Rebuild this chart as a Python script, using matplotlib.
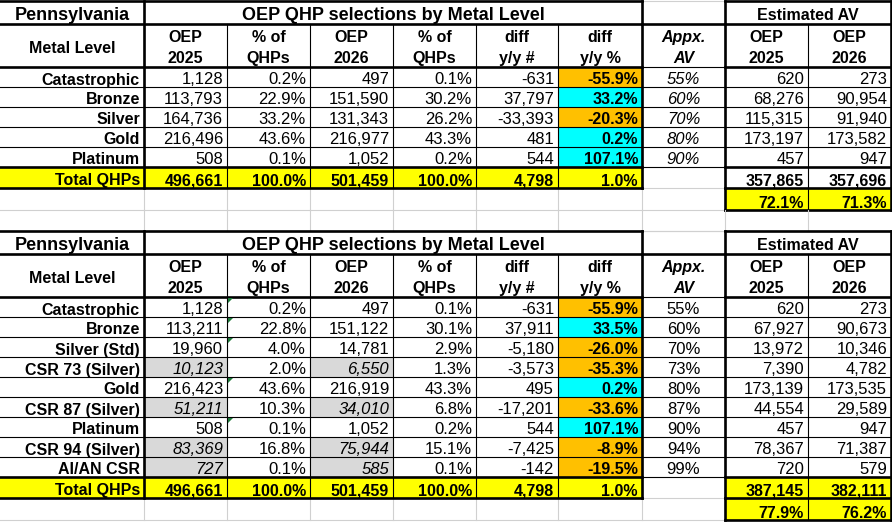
import matplotlib
matplotlib.use("Agg")
import matplotlib.pyplot as plt
from matplotlib.patches import Rectangle, Polygon

plt.rcParams['font.family'] = ['Liberation Sans', 'DejaVu Sans']

# ---- data: table 1 (metal levels) ----
levels_1 = ['Catastrophic', 'Bronze', 'Silver', 'Gold', 'Platinum']
oep25_1 = [1128, 113793, 164736, 216496, 508]
pct25_1 = [0.2, 22.9, 33.2, 43.6, 0.1]
oep26_1 = [497, 151590, 131343, 216977, 1052]
pct26_1 = [0.1, 30.2, 26.2, 43.3, 0.2]
diff_1 = [-631, 37797, -33393, 481, 544]
diffpct_1 = [-55.9, 33.2, -20.3, 0.2, 107.1]
av_1 = [55, 60, 70, 80, 90]
estav25_1 = [620, 68276, 115315, 173197, 457]
estav26_1 = [273, 90954, 91940, 173582, 947]
est_total_1 = [357865, 357696]
est_pct_1 = [72.1, 71.3]

# ---- data: table 2 (with CSR split) ----
levels_2 = ['Catastrophic', 'Bronze', 'Silver (Std)', 'CSR 73 (Silver)', 'Gold',
            'CSR 87 (Silver)', 'Platinum', 'CSR 94 (Silver)', 'AI/AN CSR']
oep25_2 = [1128, 113211, 19960, 10123, 216423, 51211, 508, 83369, 727]
pct25_2 = [0.2, 22.8, 4.0, 2.0, 43.6, 10.3, 0.1, 16.8, 0.1]
oep26_2 = [497, 151122, 14781, 6550, 216919, 34010, 1052, 75944, 585]
pct26_2 = [0.1, 30.1, 2.9, 1.3, 43.3, 6.8, 0.2, 15.1, 0.1]
diff_2 = [-631, 37911, -5180, -3573, 495, -17201, 544, -7425, -142]
diffpct_2 = [-55.9, 33.5, -26.0, -35.3, 0.2, -33.6, 107.1, -8.9, -19.5]
av_2 = [55, 60, 70, 73, 80, 87, 90, 94, 99]
estav25_2 = [620, 67927, 13972, 7390, 173139, 44554, 457, 78367, 720]
estav26_2 = [273, 90673, 10346, 4782, 173535, 29589, 947, 71387, 579]
est_total_2 = [387145, 382111]
est_pct_2 = [77.9, 76.2]

totals = [496661, 100.0, 501459, 100.0, 4798, 1.0]

state = 'Pennsylvania'
title = 'OEP QHP selections by Metal Level'
av_title = 'Estimated AV'
headers = [('Metal Level',), ('OEP', '2025'), ('% of', 'QHPs'), ('OEP', '2026'),
           ('% of', 'QHPs'), ('diff', 'y/y #'), ('diff', 'y/y %'), ('Appx.', 'AV'),
           ('OEP', '2025'), ('OEP', '2026')]

# column edges in pixels
xe = [-2, 144, 227, 310, 393, 476, 558, 642, 725, 808, 891]

YELLOW = '#FFFF00'
ORANGE = '#FFC000'
CYAN = '#00FFFF'
GREYFILL = '#D9D9D9'
GRID = '#D0D0D0'
THICK = 1.9
THIN = 0.8

fig = plt.figure(figsize=(8.92, 5.22), dpi=100)
ax = fig.add_axes([0, 0, 1, 1])
ax.set_xlim(0, 892)
ax.set_ylim(522, 0)
ax.axis('off')


def fmt_n(v):
    return f'{v:,}'


def fmt_p(v):
    return f'{v:.1f}%'


def fill(c0, c1, y0, y1, color):
    ax.add_patch(Rectangle((xe[c0], y0), xe[c1] - xe[c0], y1 - y0,
                           facecolor=color, edgecolor='none', zorder=1))


def hline(y, c0, c1, lw, color='black'):
    ax.plot([xe[c0], xe[c1]], [y, y], color=color, lw=lw, zorder=3,
            solid_capstyle='projecting')


def vline(x, y0, y1, lw, color='black'):
    ax.plot([x, x], [y0, y1], color=color, lw=lw, zorder=3,
            solid_capstyle='projecting')


def cell_text(col, ybot, s, bold=False, italic=False, align='right', size=12):
    if align == 'right':
        x, ha = xe[col + 1] - 4, 'right'
    else:
        x, ha = (xe[col] + xe[col + 1]) / 2, 'center'
    ax.text(x, ybot - 2.5, s, ha=ha, va='baseline', fontsize=size,
            fontweight='bold' if bold else 'normal',
            fontstyle='italic' if italic else 'normal', zorder=4)


def draw_table(top, levels, o25, p25, o26, p26, dif, difp, av, e25, e26,
               est_tot, est_pct, av_italic, csr_rows, tri_rows, total_yellow_av):
    y_title = top
    y_head = top + 23
    y_data = y_head + 43
    n = len(levels)
    y_rows = [y_data + 20 * i for i in range(n + 1)]
    y_tot = y_rows[-1]
    y_totb = y_tot + 21
    y_pct = y_totb
    y_pctb = y_pct + 22

    # fills
    for i in csr_rows:
        fill(1, 2, y_rows[i], y_rows[i + 1], GREYFILL)
        fill(3, 4, y_rows[i], y_rows[i + 1], GREYFILL)
    for i, v in enumerate(difp):
        fill(6, 7, y_rows[i], y_rows[i + 1], CYAN if v > 0 else ORANGE)
    fill(0, 7, y_tot, y_totb, YELLOW)
    if total_yellow_av:
        fill(8, 10, y_tot, y_totb, YELLOW)
    fill(8, 10, y_pct, y_pctb, YELLOW)

    # light grid in the empty cells below
    for c in range(0, 9):
        vline(xe[c], y_pct, y_pctb, 0.8, GRID)
    hline(y_pctb, 0, 8, 0.8, GRID)
    hline(y_title, 7, 8, 0.8, GRID)

    # thin inner black lines
    for y in y_rows[1:-1]:
        hline(y, 0, 10, THIN)
    for c in range(1, 10):
        vline(xe[c], y_head, y_totb, THIN)
    hline(y_totb, 7, 8, THIN, GRID)
    vline(xe[9], y_pct, y_pctb, THIN)

    # thick borders: main block and AV block
    for c0, c1 in [(0, 7), (8, 10)]:
        hline(y_title, c0, c1, THICK)
        hline(y_head, c0, c1, THICK)
        hline(y_data, c0, c1, THICK)
        hline(y_tot, c0, c1, THICK)
        hline(y_totb, c0, c1, THICK)
        vline(xe[c0], y_title, y_totb, THICK)
        vline(xe[c1], y_title, y_totb, THICK)
    hline(y_head, 7, 8, THICK)
    hline(y_data, 7, 8, THIN)
    hline(y_tot, 7, 8, THIN)
    vline(xe[1], y_title, y_totb, THICK)
    # percent box under AV totals
    hline(y_pctb, 8, 10, THICK)
    vline(xe[8], y_pct, y_pctb, THICK)
    vline(xe[10], y_pct, y_pctb, THICK)

    # green error-indicator triangles
    for i in tri_rows:
        x0, y0 = xe[2] + 1, y_rows[i] + 1
        ax.add_patch(Polygon([[x0, y0], [x0 + 5, y0], [x0, y0 + 5]],
                             closed=True, facecolor='#1F7A3A', edgecolor='none',
                             zorder=5))

    # titles
    tb = y_head - 4
    ax.text((xe[0] + 2 + xe[1]) / 2, tb, state, ha='center', va='baseline',
            fontsize=13, fontweight='bold', zorder=4)
    ax.text((xe[1] + xe[7]) / 2, tb, title, ha='center', va='baseline',
            fontsize=13, fontweight='bold', zorder=4)
    ax.text((xe[8] + xe[10]) / 2, tb, av_title, ha='center', va='baseline',
            fontsize=11.5, fontweight='bold', zorder=4)

    # header row
    for c, h in enumerate(headers):
        it = c == 7
        if len(h) == 1:
            ax.text((xe[c] + 2 + xe[c + 1]) / 2, y_head + 29, h[0], ha='center',
                    va='baseline', fontsize=11.5, fontweight='bold', zorder=4)
        else:
            for k, s in enumerate(h):
                ax.text((xe[c] + xe[c + 1]) / 2, y_head + 18 + 21 * k, s,
                        ha='center', va='baseline', fontsize=11.5,
                        fontweight='bold', fontstyle='italic' if it else 'normal',
                        zorder=4)

    # data rows
    for i in range(n):
        yb = y_rows[i + 1]
        ic = i in csr_rows
        cell_text(0, yb, levels[i], bold=True, size=11.5)
        cell_text(1, yb, fmt_n(o25[i]), italic=ic)
        cell_text(2, yb, fmt_p(p25[i]))
        cell_text(3, yb, fmt_n(o26[i]), italic=ic)
        cell_text(4, yb, fmt_p(p26[i]))
        cell_text(5, yb, fmt_n(dif[i]))
        cell_text(6, yb, fmt_p(difp[i]), bold=True, size=11.5)
        cell_text(7, yb, f'{av[i]}%', italic=av_italic, align='center')
        cell_text(8, yb, fmt_n(e25[i]))
        cell_text(9, yb, fmt_n(e26[i]))

    # totals
    yb = y_totb
    cell_text(0, yb, 'Total QHPs', bold=True, size=11.5)
    tot_txt = [fmt_n(totals[0]), fmt_p(totals[1]), fmt_n(totals[2]),
               fmt_p(totals[3]), fmt_n(totals[4]), fmt_p(totals[5])]
    for c, s in enumerate(tot_txt):
        cell_text(c + 1, yb, s, bold=True, size=11.5)
    cell_text(8, yb, fmt_n(est_tot[0]), bold=True, size=11.5)
    cell_text(9, yb, fmt_n(est_tot[1]), bold=True, size=11.5)
    cell_text(8, y_pctb, fmt_p(est_pct[0]), bold=True, size=11.5)
    cell_text(9, y_pctb, fmt_p(est_pct[1]), bold=True, size=11.5)
    return y_pctb


y_end = draw_table(1, levels_1, oep25_1, pct25_1, oep26_1, pct26_1, diff_1,
                   diffpct_1, av_1, estav25_1, estav26_1, est_total_1, est_pct_1,
                   av_italic=True, csr_rows=[], tri_rows=[], total_yellow_av=False)

# empty spreadsheet row between the two tables
for c in range(0, 10):
    vline(xe[c], y_end, 231, 0.8, GRID)
hline(231, 0, 10, 0.8, GRID)

draw_table(231, levels_2, oep25_2, pct25_2, oep26_2, pct26_2, diff_2,
           diffpct_2, av_2, estav25_2, estav26_2, est_total_2, est_pct_2,
           av_italic=False, csr_rows=[3, 5, 7, 8], tri_rows=[0, 1, 2, 4, 6],
           total_yellow_av=True)

fig.savefig('out.png', dpi=100)
